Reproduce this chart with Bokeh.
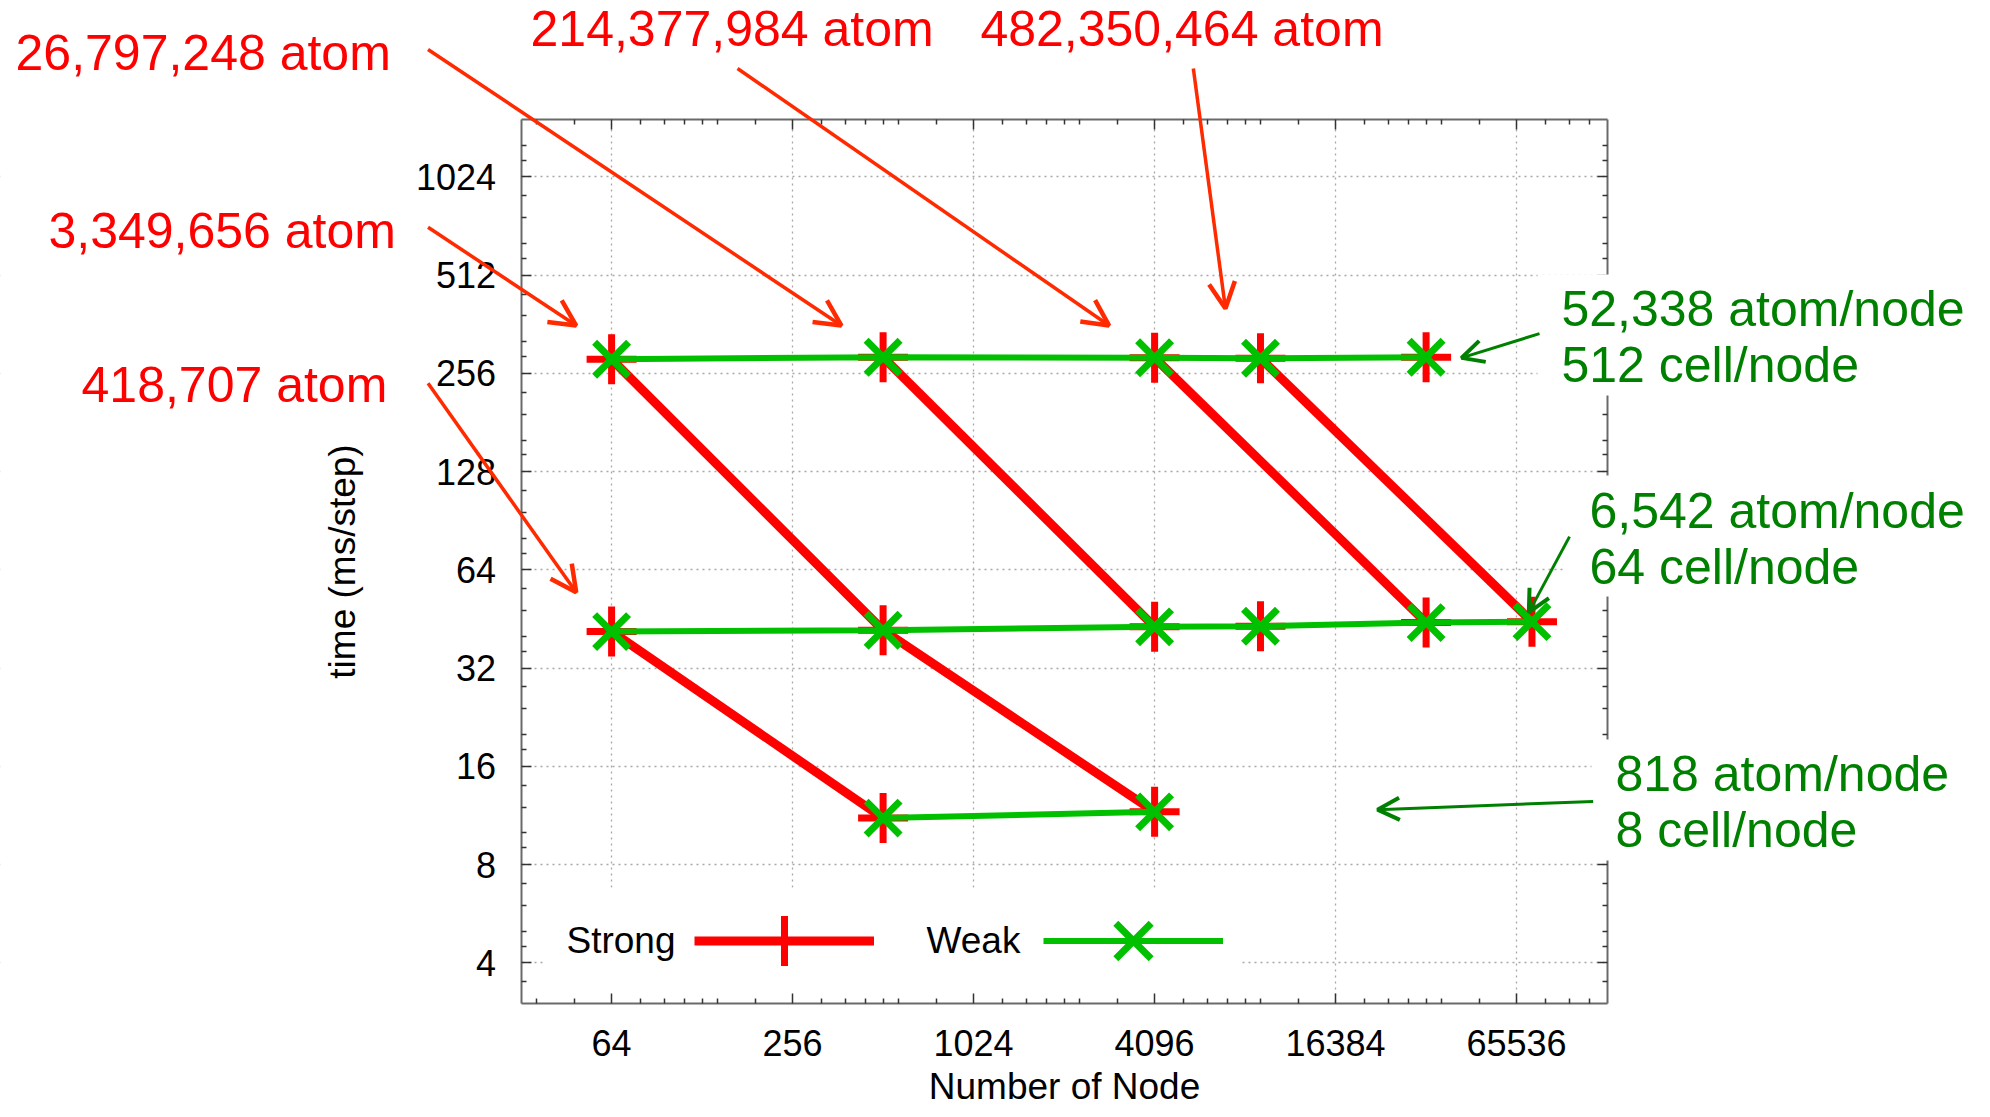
import math
from bokeh.plotting import figure
from bokeh.models import (Range1d, FixedTicker, LogAxis, Label, Arrow, OpenHead,
                          Legend, LegendItem, BoxAnnotation, NumeralTickFormatter,
                          CustomJSTickFormatter)
from bokeh.embed import file_html
from bokeh.resources import INLINE

# ---------------- data ----------------
# weak scaling series (atoms per node fixed)
weak_52k_nodes = [64, 512, 4096, 9216, 32768]
weak_52k_time = [283, 287, 286, 285, 287]
weak_6k_nodes = [64, 512, 4096, 9216, 32768, 73728]
weak_6k_time = [41.4, 41.8, 42.8, 43.0, 44.1, 44.4]
weak_818_nodes = [512, 4096]
weak_818_time = [11.1, 11.6]

# strong scaling series (total atoms fixed)
strong_418k_nodes = [64, 512]
strong_418k_time = [41.4, 11.1]
strong_3m_nodes = [64, 512, 4096]
strong_3m_time = [283, 41.8, 11.6]
strong_26m_nodes = [512, 4096]
strong_26m_time = [287, 42.8]
strong_214m_nodes = [4096, 32768]
strong_214m_time = [286, 44.1]
strong_482m_nodes = [9216, 73728]
strong_482m_time = [285, 44.4]
strong_60m_nodes = [9216]
strong_60m_time = [43.0]
strong_1715m_nodes = [32768]
strong_1715m_time = [287]

x_ticks = [64, 256, 1024, 4096, 16384, 65536]
y_ticks = [4, 8, 16, 32, 64, 128, 256, 512, 1024]

atom_labels = ["26,797,248 atom", "214,377,984 atom", "482,350,464 atom",
               "3,349,656 atom", "418,707 atom"]
node_labels = ["52,338 atom/node\n512 cell/node",
               "6,542 atom/node\n64 cell/node",
               "818 atom/node\n8 cell/node"]

# ---------------- layout / styling ----------------
RED = "#ff0000"
GREEN = "#00c000"
ARROW_RED = "#ff2a00"
DARK_GREEN = "#008000"
FONT = "Liberation Sans"

W, H = 1982, 1109
X_MIN, X_MAX = 32, 131072
Y_MIN, Y_MAX = 3, 1536
# plot box position on the canvas (pixels)
BOX_L, BOX_R, BOX_T, BOX_B = 520.6, 1606.6, 119.0, 1003.0

x_oct = (BOX_R - BOX_L) / math.log2(X_MAX / X_MIN)
y_oct = (BOX_B - BOX_T) / math.log2(Y_MAX / Y_MIN)
x_start = X_MIN * 2 ** (-BOX_L / x_oct)
x_end = X_MAX * 2 ** ((W - BOX_R) / x_oct)
y_end = Y_MAX * 2 ** (BOX_T / y_oct)
y_start = Y_MIN * 2 ** (-(H - BOX_B) / y_oct)

x_minor = [m * f for m in [16, 64, 256, 1024, 4096, 16384, 65536]
           for f in (1.25, 1.5, 1.75, 2, 2.25, 3) if X_MIN < m * f < X_MAX]
y_minor = [m * f for m in [2, 4, 8, 16, 32, 64, 128, 256, 512, 1024]
           for f in (1.125, 1.25, 1.5, 1.75) if Y_MIN < m * f < Y_MAX]

p = figure(width=W, height=H, x_axis_type="log", y_axis_type="log",
           x_range=Range1d(x_start, x_end), y_range=Range1d(y_start, y_end),
           output_backend="svg", toolbar_location=None,
           min_border_left=0, min_border_right=0, min_border_top=0, min_border_bottom=0)
p.outline_line_color = None
p.background_fill_color = "white"
p.border_fill_color = "white"

xt = FixedTicker(ticks=x_ticks, minor_ticks=x_minor)
yt = FixedTicker(ticks=y_ticks, minor_ticks=y_minor)


def style_axis(ax):
    ax.axis_line_color = "#6a6a6a"
    ax.axis_line_width = 2
    ax.major_tick_in = 10
    ax.major_tick_out = 0
    ax.minor_tick_in = 5
    ax.minor_tick_out = 0
    ax.major_tick_line_color = "#333333"
    ax.minor_tick_line_color = "#333333"
    ax.major_tick_line_width = 1.5
    ax.minor_tick_line_width = 1.5
    ax.major_label_text_font = FONT
    ax.major_label_text_font_size = "36px"
    ax.major_label_text_color = "black"
    ax.axis_label_text_font = FONT
    ax.axis_label_text_font_size = "37px"
    ax.axis_label_text_font_style = "normal"
    ax.axis_label_text_color = "black"


xa = p.below[0]
ya = p.left[0]
xa.ticker = xt
ya.ticker = yt
xa.formatter = NumeralTickFormatter(format="0")
ya.formatter = NumeralTickFormatter(format="0")
style_axis(xa)
style_axis(ya)
xa.fixed_location = Y_MIN
xa.bounds = (X_MIN, X_MAX)
ya.fixed_location = X_MIN
ya.bounds = (Y_MIN, Y_MAX)
xa.major_label_standoff = 26
ya.major_label_standoff = 25
xa.axis_label = "Number of Node"
xa.axis_label_standoff = 7
ya.axis_label = "time (ms/step)"
ya.axis_label_standoff = 50

blank = CustomJSTickFormatter(code="return ''")
top_ax = LogAxis(ticker=xt, formatter=blank, fixed_location=Y_MAX, bounds=(X_MIN, X_MAX))
right_ax = LogAxis(ticker=yt, formatter=blank, fixed_location=X_MAX, bounds=(Y_MIN, Y_MAX))
style_axis(top_ax)
style_axis(right_ax)
top_ax.major_label_standoff = 0
right_ax.major_label_standoff = 0
p.add_layout(top_ax, "above")
p.add_layout(right_ax, "right")

for g in (p.xgrid, p.ygrid):
    g.grid_line_color = "#a8a8a8"
    g.grid_line_dash = "2 4"
    g.grid_line_width = 1.3

# keep the grid inside the plot box
for kw in (dict(right=X_MIN), dict(left=X_MAX),
           dict(left=X_MIN, right=X_MAX, bottom=Y_MAX),
           dict(left=X_MIN, right=X_MAX, top=Y_MIN)):
    p.add_layout(BoxAnnotation(fill_color="white", fill_alpha=1, line_color=None,
                               level="underlay", **kw))

# opaque key area (hides grid under the key, like gnuplot's opaque key)
p.add_layout(BoxAnnotation(left=38, right=7900, top=6.79, bottom=Y_MIN, fill_color="white",
                           fill_alpha=1, line_color=None, level="underlay"))

# ---------------- strong scaling (red) ----------------
strong_sets = [(strong_418k_nodes, strong_418k_time),
               (strong_3m_nodes, strong_3m_time),
               (strong_26m_nodes, strong_26m_time),
               (strong_214m_nodes, strong_214m_time),
               (strong_482m_nodes, strong_482m_time)]
strong_line_r = None
strong_pt_r = None
for nodes, t in strong_sets:
    r = p.line(nodes, t, line_color=RED, line_width=9)
    if strong_line_r is None:
        strong_line_r = r
for nodes, t in strong_sets + [(strong_60m_nodes, strong_60m_time),
                               (strong_1715m_nodes, strong_1715m_time)]:
    r = p.scatter(nodes, t, marker="cross", size=50, line_color=RED, line_width=7)
    if strong_pt_r is None:
        strong_pt_r = r

# ---------------- weak scaling (green) ----------------
weak_sets = [(weak_52k_nodes, weak_52k_time),
             (weak_6k_nodes, weak_6k_time),
             (weak_818_nodes, weak_818_time)]
weak_line_r = None
weak_pt_r = None
for nodes, t in weak_sets:
    r = p.line(nodes, t, line_color=GREEN, line_width=6)
    if weak_line_r is None:
        weak_line_r = r
for nodes, t in weak_sets:
    r = p.scatter(nodes, t, marker="x", size=48, line_color=GREEN, line_width=7)
    if weak_pt_r is None:
        weak_pt_r = r

# ---------------- key ----------------
legend = Legend(items=[LegendItem(label="", renderers=[strong_line_r, strong_pt_r]),
                       LegendItem(label="", renderers=[weak_line_r, weak_pt_r])],
                orientation="horizontal", location=(694, H - 1002.5),
                glyph_width=180, glyph_height=125, label_width=0, label_standoff=0,
                spacing=169, padding=0, margin=0,
                background_fill_alpha=0, border_line_color=None)
p.add_layout(legend)
for txt, lx in (("Strong", 45.3), ("Weak", 714)):
    p.add_layout(Label(x=lx, y=4.68, text=txt, text_font=FONT, text_font_size="37px",
                       text_color="black", text_baseline="alphabetic"))

# ---------------- annotations ----------------
red_label_pos = [(0.666, 2464), (34.4, 2918), (1079, 2918), (0.857, 699), (1.104, 235.9)]
for txt, (lx, ly) in zip(atom_labels, red_label_pos):
    p.add_layout(Label(x=lx, y=ly, text=txt, text_font=FONT, text_font_size="50px",
                       text_color=RED, text_baseline="alphabetic"))

green_label_pos = [(76900, 514.5), (95300, 124.5), (116300, 19.33)]
for txt, (lx, ly) in zip(node_labels, green_label_pos):
    p.add_layout(Label(x=lx, y=ly, text=txt, text_font=FONT, text_font_size="50px",
                       text_color=DARK_GREEN, text_baseline="top", text_line_height=1.0,
                       background_fill_color="white",
                       padding=dict(left=24, right=6, top=7, bottom=2)))

red_arrows = [((15.69, 2518), (372, 358.8)),
              ((167.9, 2201), (2890, 358.8)),
              ((5511, 2201), (7047, 404.6)),
              ((15.69, 718), (48.8, 358.8)),
              ((15.69, 238.9), (48.8, 54.6))]
for (xs, ys), (xe, ye) in red_arrows:
    p.add_layout(Arrow(x_start=xs, y_start=ys, x_end=xe, y_end=ye,
                       line_color=ARROW_RED, line_width=3.5,
                       end=OpenHead(size=26, line_color=ARROW_RED, line_width=4.5)))

green_arrows = [((78100, 339), (42960, 285.6)),
                ((98300, 80.9), (71960, 47.4)),
                ((117800, 12.49), (22580, 11.78))]
for (xs, ys), (xe, ye) in green_arrows:
    p.add_layout(Arrow(x_start=xs, y_start=ys, x_end=xe, y_end=ye,
                       line_color=DARK_GREEN, line_width=3,
                       end=OpenHead(size=22, line_color=DARK_GREEN, line_width=4)))

open("out.html", "w").write(file_html(p, INLINE))
